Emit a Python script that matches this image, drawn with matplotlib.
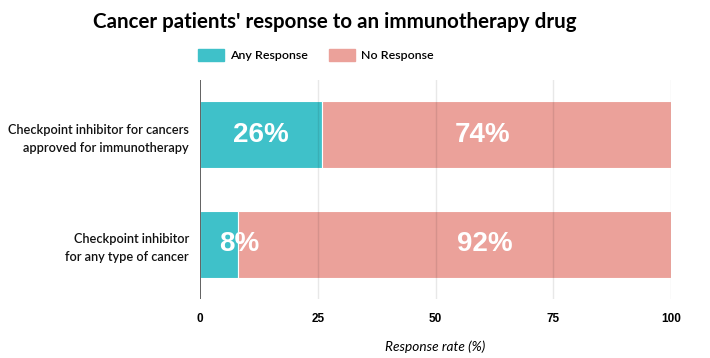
import matplotlib.pyplot as plt

# data
categories = ["Checkpoint inhibitor for cancers\napproved for immunotherapy",
              "Checkpoint inhibitor\nfor any type of cancer"]
any_response = [26, 8]
no_response = [74, 92]
series_names = ["Any Response", "No Response"]
xticks = [0, 25, 50, 75, 100]

teal = "#3fc1c9"
salmon = "#eba19a"

fig = plt.figure(figsize=(7.1, 3.58), dpi=100)
ax = fig.add_axes([200 / 710, 1 - 299 / 358, 471 / 710, 219 / 358])

y = list(range(len(categories)))
ax.barh(y, any_response, height=0.615, color=teal, edgecolor="white", linewidth=0.8, zorder=1)
ax.barh(y, no_response, left=any_response, height=0.615, color=salmon,
        edgecolor="white", linewidth=0.8, zorder=1)

# white percentage labels inside the bars
for i in y:
    a, n = any_response[i], no_response[i]
    ax.text(max(a / 2, 8.3), i, f"{a}%", ha="center", va="center", color="white",
            fontsize=20, fontweight="bold", family="Liberation Sans", zorder=3)
    ax.text(a + n * 0.46 if a > 10 else a + n * 0.57, i, f"{n}%", ha="center", va="center",
            color="white", fontsize=20, fontweight="bold", family="Liberation Sans", zorder=3)

ax.set_xlim(0, 100)
ax.set_ylim(len(categories) - 0.5, -0.5)
ax.set_yticks(y)
ax.set_yticklabels(categories, fontsize=9.2, family="Lato", fontweight="semibold",
                   linespacing=1.6, color="#111111")
ax.set_xticks(xticks)
ax.set_xticklabels([str(t) for t in xticks], fontsize=8.5, fontweight="bold",
                   family="Liberation Sans")
ax.tick_params(axis="y", length=0, pad=8)
ax.tick_params(axis="x", length=0, pad=10)

for t in xticks[1:]:
    ax.axvline(t, color="black", alpha=0.09, linewidth=1, zorder=2)
ax.axvline(0, color="#555555", linewidth=1.3, zorder=4)
for s in ax.spines.values():
    s.set_visible(False)

ax.set_xlabel("Response rate (%)", fontsize=9.8, style="italic", family="Lato", labelpad=11)

fig.text(335 / 710, 1 - 22 / 358, "Cancer patients' response to an immunotherapy drug",
         ha="center", va="center", fontsize=14.8, fontweight="bold", family="Lato")

# legend
handles = [plt.Rectangle((0, 0), 1, 1, color=teal), plt.Rectangle((0, 0), 1, 1, color=salmon)]
fig.legend(handles, series_names, loc="center", bbox_to_anchor=(316 / 710, 1 - 55 / 358),
           ncol=2, frameon=False, handlelength=2.1, handleheight=1.1, columnspacing=1.7,
           handletextpad=0.5, prop={"family": "Lato", "weight": "semibold", "size": 8.9})

fig.savefig("out.png", dpi=100)
